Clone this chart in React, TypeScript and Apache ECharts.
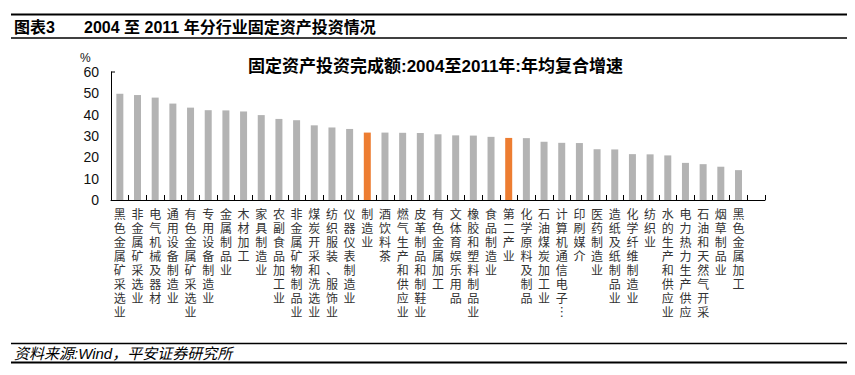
import React, { useEffect, useRef } from "react";
import * as echarts from "echarts";

const categories: string[] = [
  "黑色金属矿采选业", "非金属矿采选业", "电气机械及器材", "通用设备制造业", "有色金属矿采选业",
  "专用设备制造业", "金属制品业", "木材加工", "家具制造业", "农副食品加工业",
  "非金属矿物制品业", "煤炭开采和洗选业", "纺织服装、服饰业", "仪器仪表制造业", "制造业",
  "酒饮料茶", "燃气生产和供应业", "皮革制品和制鞋业", "有色金属加工", "文体育娱乐用品",
  "橡胶和塑料制品业", "食品制造业", "第二产业", "化学原料及制品", "石油煤炭加工业",
  "计算机通信电子︙", "印刷媒介", "医药制造业", "造纸及纸制品业", "化学纤维制造业",
  "纺织业", "水的生产和供应业", "电力热力生产供应", "石油和天然气开采", "烟草制品业",
  "黑色金属加工", "",
];

const values: (number | null)[] = [
  49.8, 49.2, 48.0, 45.2, 43.3,
  42.1, 42.0, 41.5, 39.8, 38.0,
  37.4, 35.0, 34.0, 33.3, 31.6,
  31.6, 31.5, 31.4, 30.8, 30.3,
  30.2, 29.6, 29.1, 29.0, 27.3,
  26.8, 26.7, 23.8, 23.7, 21.5,
  21.4, 20.9, 17.4, 16.8, 15.6,
  14.0, null,
];

const highlighted: string[] = ["制造业", "第二产业"];

const yTicks = { min: 0, max: 60, interval: 10 };

const headerLabel = "图表3";
const headerText = "2004 至 2011 年分行业固定资产投资情况";
const chartTitle = "固定资产投资完成额:2004至2011年:年均复合增速";
const sourceText = "资料来源:Wind，平安证券研究所";

const FONT = '"Liberation Sans", "Noto Sans CJK SC", sans-serif';
const GRAY = "#b3b3b3";
const ORANGE = "#ed7d31";

export default function App() {
  const ref = useRef<HTMLDivElement>(null);

  useEffect(() => {
    if (!ref.current) return;
    const chart = echarts.init(ref.current, undefined, { renderer: "svg" });
    chart.setOption({
      animation: false,
      backgroundColor: "#ffffff",
      textStyle: { fontFamily: FONT },
      title: {
        text: chartTitle,
        left: 243,
        top: 53,
        textStyle: { fontFamily: FONT, fontSize: 17, fontWeight: "bold", color: "#000" },
      },
      grid: { left: 111, right: 90, top: 72, bottom: 175, containLabel: false },
      xAxis: {
        type: "category",
        data: categories,
        boundaryGap: true,
        axisLine: { show: true, lineStyle: { color: "#000", width: 1 } },
        axisTick: { show: true, inside: true, length: 5, interval: 0, lineStyle: { color: "#000" } },
        axisLabel: {
          interval: 0,
          margin: 8,
          fontSize: 12,
          lineHeight: 14,
          color: "#333",
          fontFamily: FONT,
          verticalAlign: "top",
          formatter: (v: string) => v.split("").join("\n"),
        },
        splitLine: { show: false },
      },
      yAxis: {
        type: "value",
        min: yTicks.min,
        max: yTicks.max,
        interval: yTicks.interval,
        axisLine: { show: true, lineStyle: { color: "#000", width: 1 } },
        axisTick: { show: false },
        splitLine: { show: false },
        axisLabel: { fontSize: 14, color: "#111", margin: 12, fontFamily: FONT },
      },
      series: [
        {
          type: "bar",
          barWidth: 7,
          data: values.map((v, i) => ({
            value: v,
            itemStyle: { color: highlighted.includes(categories[i]) ? ORANGE : GRAY },
          })),
        },
      ],
      graphic: [
        { type: "line", shape: { x1: 11, y1: 14.5, x2: 847, y2: 14.5 }, style: { stroke: "#000", lineWidth: 2 } },
        { type: "line", shape: { x1: 11, y1: 38, x2: 847, y2: 38 }, style: { stroke: "#000", lineWidth: 1.5 } },
        {
          type: "text", x: 14, y: 27,
          style: { text: headerLabel, fontSize: 16, fontWeight: "bold", fill: "#000", fontFamily: FONT, verticalAlign: "middle" },
        },
        {
          type: "text", x: 84, y: 27,
          style: { text: headerText, fontSize: 16, fontWeight: "bold", fill: "#000", fontFamily: FONT, verticalAlign: "middle" },
        },
        {
          type: "text", x: 80, y: 58,
          style: { text: "%", fontSize: 12, fill: "#111", fontFamily: FONT, verticalAlign: "middle" },
        },
        { type: "line", shape: { x1: 111, y1: 72, x2: 115, y2: 72 }, style: { stroke: "#000", lineWidth: 1 } },
        { type: "line", shape: { x1: 11, y1: 343.5, x2: 847, y2: 343.5 }, style: { stroke: "#000", lineWidth: 1.5 } },
        { type: "line", shape: { x1: 11, y1: 362.5, x2: 847, y2: 362.5 }, style: { stroke: "#000", lineWidth: 2 } },
        {
          type: "text", x: 14, y: 353,
          style: { text: sourceText, fontSize: 15, fontStyle: "italic", fill: "#000", fontFamily: FONT, verticalAlign: "middle" },
        },
      ],
    });
    return () => chart.dispose();
  }, []);

  return (
    <div
      ref={ref}
      style={{ position: "fixed", left: 0, top: 0, width: 855, height: 375, background: "#fff" }}
    />
  );
}
